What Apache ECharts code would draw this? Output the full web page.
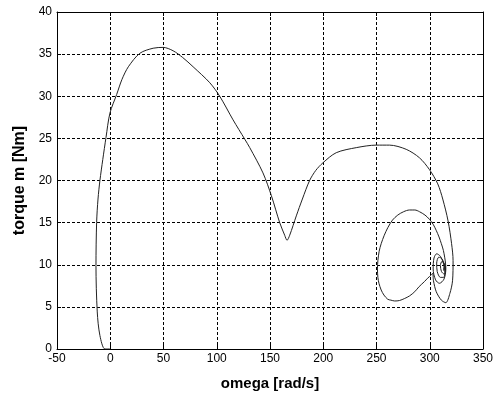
<!DOCTYPE html>
<html>
<head>
<meta charset="utf-8">
<script src="https://cdn.jsdelivr.net/npm/echarts@6/dist/echarts.min.js"></script>
<style>
html,body{margin:0;padding:0;background:#fff;}
#chart{width:499px;height:396px;}
</style>
</head>
<body>
<div id="chart"></div>
<script>
// omega [rad/s] values along the trajectory
const omega = [
  0, -5, -9.7, -12.2, -13.4, -12.8, -11.5, -9.7, -7, -4, -0.3, 6, 11, 17, 27.8, 40.3, 49.7, 59, 68, 77.8,
  93.5, 102.8, 115.3, 126.3, 131, 143.4, 151.3, 159.1, 163.8, 166, 168.5, 174.7, 180.4, 187.2, 193, 199.7,
  212.2, 231, 249.7, 262.2, 277.9, 290.3, 299.7, 307.5, 312.2, 317.2, 320.5, 321.9, 321.4, 318.9, 315.1,
  310.9, 306.1, 303.5, 302.8, 301.5, 298, 295, 290, 285.9, 281, 276.5, 271.5, 267.1, 263.5, 260.6, 257,
  254.4, 252.3, 251.3, 250.9, 251.3, 252.5, 254.4, 257.3, 260.6, 265, 270, 275.5, 281, 286, 290.3, 295.5,
  299.7, 303.2, 306, 308.7, 310.9, 312.8, 314, 314.8, 315.1, 313.4, 309.1, 305.5, 303.2, 304, 306.5, 310,
  313, 314.3, 313, 310, 307, 306.5, 308.5, 311.5, 314, 314.8, 313.5, 311, 310, 311.5, 313.8, 314.8, 314.2,
  313, 313.5, 314.3, 314
];
// torque m [Nm] values along the trajectory
const torque = [
  0, 0, 1.6, 4.4, 9.9, 15, 17.8, 20, 22.5, 25.1, 28, 30.2, 32, 33.5, 35.1, 35.7, 35.8, 35.4, 34.6, 33.5,
  31.6, 30, 27.2, 24.9, 23.9, 20.9, 18.2, 15, 13.5, 12.9, 13.5, 15.8, 17.8, 20, 21.2, 22.1,
  23.3, 23.9, 24.2, 24.2, 23.7, 22.7, 21.3, 19.6, 17.8, 15.2, 12.5, 10.5, 8.1, 6.6, 5.5,
  5.8, 6.8, 8.1, 9.0, 8.8, 8.4, 8.0, 7.4, 6.8, 6.3, 6.0, 5.75, 5.7, 5.8, 5.9, 6.4,
  7.0, 7.8, 8.5, 9.5, 10.5, 11.6, 12.5, 13.5, 14.4, 15.3, 15.9, 16.3, 16.5, 16.5, 16.3, 15.9,
  15.4, 14.8, 14.1, 13.3, 12.5, 11.7, 10.9, 10.2, 9.5, 8.3, 7.8, 8.2, 9.5, 10.8, 11.3, 11,
  10.1, 9.2, 8.5, 8.5, 9.2, 10.2, 10.9, 10.7, 9.9, 9.3, 8.9, 9.2, 9.9, 10.4, 10.1, 9.6, 9.2,
  9.4, 9.8, 9.6, 9.4
];
const xTicks = [-50, 0, 50, 100, 150, 200, 250, 300, 350];
const yTicks = [0, 5, 10, 15, 20, 25, 30, 35, 40];

const points = omega.map((w, i) => [w, torque[i]]);
const font = "Arial, 'Liberation Sans', sans-serif";
const tickStyle = {show: true, inside: true, length: 4, lineStyle: {color: '#000', width: 1}};
const lineStyleAxis = {show: true, onZero: false, lineStyle: {color: '#000', width: 1}};
const gridLine = {show: true, lineStyle: {color: '#000', width: 1, type: [3, 2]}};

const chart = echarts.init(document.getElementById('chart'), null, {renderer: 'canvas'});
chart.setOption({
  backgroundColor: '#fff',
  animation: false,
  grid: {left: 57, right: 16, top: 12, bottom: 45, containLabel: false},
  xAxis: [{
    type: 'value', min: xTicks[0], max: xTicks[xTicks.length - 1], interval: 50,
    name: 'omega [rad/s]', nameLocation: 'middle', nameGap: 27,
    nameTextStyle: {fontFamily: font, fontSize: 15, fontWeight: 'bold', color: '#000'},
    axisLine: lineStyleAxis, axisTick: tickStyle, splitLine: gridLine,
    axisLabel: {fontFamily: font, fontSize: 12, color: '#000', margin: 4}
  }, {
    type: 'value', position: 'top', min: xTicks[0], max: xTicks[xTicks.length - 1], interval: 50,
    axisLine: lineStyleAxis, axisTick: tickStyle, splitLine: {show: false}, axisLabel: {show: false}
  }],
  yAxis: [{
    type: 'value', position: 'left', min: yTicks[0], max: yTicks[yTicks.length - 1], interval: 5,
    name: 'torque m [Nm]', nameLocation: 'middle', nameGap: 24,
    nameTextStyle: {fontFamily: font, fontSize: 16, fontWeight: 'bold', color: '#000'},
    axisLine: lineStyleAxis, axisTick: tickStyle, splitLine: gridLine,
    axisLabel: {fontFamily: font, fontSize: 12, color: '#000', margin: 5}
  }, {
    type: 'value', position: 'right', min: yTicks[0], max: yTicks[yTicks.length - 1], interval: 5,
    axisLine: lineStyleAxis, axisTick: tickStyle, splitLine: {show: false}, axisLabel: {show: false}
  }],
  series: [{
    type: 'line', data: points, showSymbol: false, smooth: 0.3,
    lineStyle: {color: '#222', width: 1}, z: 5
  }]
});
</script>
</body>
</html>
